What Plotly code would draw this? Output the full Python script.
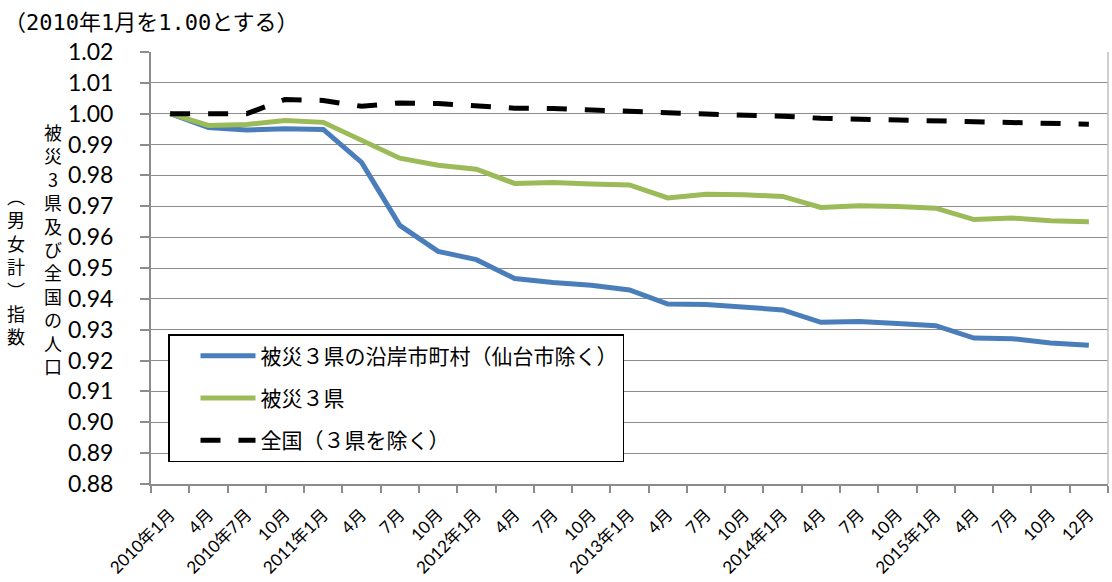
import plotly.graph_objects as go

# Time axis: quarterly points from Jan 2010 to Dec 2015
months = ["2010年1月", "4月", "2010年7月", "10月", "2011年1月", "4月", "7月", "10月",
          "2012年1月", "4月", "7月", "10月", "2013年1月", "4月", "7月", "10月",
          "2014年1月", "4月", "7月", "10月", "2015年1月", "4月", "7月", "10月", "12月"]

# Population index (Jan 2010 = 1.00)
coastal = [1.0000, 0.9955, 0.9947, 0.9951, 0.9949, 0.9842, 0.9638, 0.9554, 0.9527,
           0.9466, 0.9453, 0.9444, 0.9429, 0.9383, 0.9382, 0.9372, 0.9364, 0.9324,
           0.9327, 0.9320, 0.9313, 0.9273, 0.9271, 0.9257, 0.9250]
three_pref = [1.0000, 0.9962, 0.9965, 0.9978, 0.9972, 0.9914, 0.9856, 0.9833, 0.9820,
              0.9774, 0.9777, 0.9772, 0.9769, 0.9727, 0.9739, 0.9737, 0.9732, 0.9696,
              0.9702, 0.9699, 0.9694, 0.9657, 0.9662, 0.9653, 0.9650]
national = [1.0000, 1.0000, 1.0000, 1.0046, 1.0043, 1.0024, 1.0035, 1.0033, 1.0024,
            1.0018, 1.0017, 1.0011, 1.0007, 1.0003, 0.9999, 0.9996, 0.9992, 0.9985,
            0.9982, 0.9979, 0.9975, 0.9972, 0.9970, 0.9967, 0.9966]

series_names = ["被災３県の沿岸市町村（仙台市除く）", "被災３県", "全国（３県を除く）"]

W, H = 1112, 582
L, R, T, B = 151, 4, 52, 95
PW, PH = W - L - R, H - T - B


def px_x(x):
    return (x - L) / PW


def px_y(y):
    return (H - B - y) / PH


JP = "Noto Sans CJK JP"
NUM = "Lato, Noto Sans CJK JP"
MONO = "DejaVu Sans Mono, Noto Sans CJK JP"
GRID = "#8c8c8c"

xs = list(range(len(months)))

fig = go.Figure()
fig.add_trace(go.Scatter(x=xs, y=coastal, mode="lines", name=series_names[0],
                         legendgroup="a",
                         line=dict(color="#4a7ebb", width=5)))
fig.add_trace(go.Scatter(x=xs, y=three_pref, mode="lines", name=series_names[1],
                         legendgroup="b",
                         line=dict(color="#9bbb59", width=5)))
fig.add_trace(go.Scatter(x=xs, y=national, mode="lines", name=series_names[2],
                         legendgroup="c",
                         line=dict(color="#000000", width=5, dash="20px,18px")))

fig.update_layout(
    width=W, height=H,
    margin=dict(l=L, r=R, t=T, b=B, pad=0),
    paper_bgcolor="white", plot_bgcolor="white",
    showlegend=True,
    legend=dict(
        x=px_x(168), y=px_y(336), xanchor="left", yanchor="top",
        bgcolor="white", bordercolor="#000000", borderwidth=1.5,
        font=dict(family=JP, size=21, color="#000000"),
        itemwidth=55, tracegroupgap=12, traceorder="grouped",
        indentation=26,
    ),
    xaxis=dict(
        range=[-0.5, len(months) - 0.5],
        tickmode="array", tickvals=xs, ticktext=months,
        tickangle=-45, ticks="", ticklabelstandoff=12,
        tickfont=dict(family=NUM, size=17, color="#000000"),
        showgrid=False, zeroline=False,
        showline=True, linecolor=GRID, linewidth=2,
        minor=dict(tick0=-0.5, dtick=1, ticks="outside", ticklen=7,
                   tickcolor=GRID, tickwidth=1.5, showgrid=False),
    ),
    yaxis=dict(
        range=[0.88, 1.02], tick0=0.88, dtick=0.01, tickformat=".2f",
        ticks="outside", ticklen=9, tickcolor=GRID, tickwidth=1.5,
        ticklabelstandoff=22,
        tickfont=dict(family=NUM, size=23, color="#000000"),
        showgrid=True, gridcolor=GRID, gridwidth=1,
        zeroline=False, showline=True, linecolor=GRID, linewidth=2,
    ),
    shapes=[dict(type="line", xref="paper", yref="paper", x0=1, x1=1, y0=0, y1=1,
                 line=dict(color="#bfbfbf", width=1.5))],
    annotations=[
        dict(text="（2010年1月を1.00とする）", xref="paper", yref="paper",
             x=px_x(2), y=px_y(22), xanchor="left", yanchor="middle",
             showarrow=False, font=dict(family=MONO, size=22, color="#000000")),
        dict(text="<br>".join("被災3県及び全国の人口"), xref="paper", yref="paper",
             x=px_x(53), y=px_y(250), xanchor="center", yanchor="middle",
             showarrow=False, font=dict(family=JP, size=18, color="#000000")),
        dict(text="<br>".join("︵男女計︶指数"), xref="paper", yref="paper",
             x=px_x(16), y=px_y(267), xanchor="center", yanchor="middle",
             showarrow=False, font=dict(family=JP, size=18, color="#000000")),
    ],
)

fig.write_html("out.html")
